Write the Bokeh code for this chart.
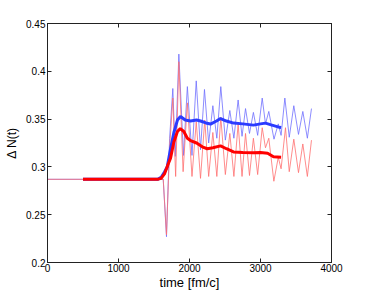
from bokeh.plotting import figure
from bokeh.models import Range1d, LinearAxis, FixedTicker
from bokeh.embed import file_html
from bokeh.resources import INLINE

# thin (raw) series
t_blue_thin = [0, 1560, 1630, 1676, 1720, 1765, 1800, 1850, 1915, 1970, 2035, 2095, 2155, 2211,
               2270, 2329, 2385, 2441, 2505, 2568, 2625, 2685, 2740, 2789, 2845, 2900, 2960,
               3024, 3070, 3117, 3190, 3250, 3290, 3343, 3405, 3469, 3535, 3596, 3660, 3718]
v_blue_thin = [0.287, 0.287, 0.287, 0.227, 0.330, 0.382, 0.311, 0.418, 0.312, 0.384, 0.312, 0.390,
               0.318, 0.381, 0.325, 0.364, 0.330, 0.384, 0.328, 0.359, 0.330, 0.370, 0.332, 0.361,
               0.335, 0.357, 0.333, 0.372, 0.345, 0.358, 0.329, 0.345, 0.333, 0.372, 0.331, 0.364,
               0.334, 0.358, 0.330, 0.361]

t_red_thin = [0, 1560, 1630, 1676, 1720, 1765, 1805, 1850, 1910, 1970, 2035, 2095, 2155, 2215,
              2270, 2329, 2385, 2441, 2505, 2568, 2625, 2685, 2740, 2789, 2845, 2900, 2960,
              3024, 3070, 3117, 3188, 3250, 3290, 3352, 3405, 3469, 3535, 3596, 3660, 3718]
v_red_thin = [0.287, 0.287, 0.287, 0.229, 0.320, 0.372, 0.290, 0.410, 0.295, 0.367, 0.290, 0.347,
              0.288, 0.349, 0.290, 0.336, 0.290, 0.352, 0.292, 0.335, 0.290, 0.345, 0.290, 0.335,
              0.291, 0.330, 0.292, 0.341, 0.320, 0.330, 0.285, 0.310, 0.298, 0.341, 0.295, 0.329,
              0.294, 0.324, 0.290, 0.328]

# thick (averaged) series
t_blue_avg = [500, 1550, 1600, 1650, 1686, 1733, 1780, 1830, 1873, 1940, 2014, 2100, 2155, 2230,
              2296, 2380, 2437, 2520, 2620, 2750, 2900, 3000, 3070, 3150, 3270, 3290]
v_blue_avg = [0.287, 0.287, 0.289, 0.295, 0.300, 0.319, 0.336, 0.349, 0.3527, 0.349, 0.348, 0.349,
              0.348, 0.346, 0.3448, 0.348, 0.3506, 0.348, 0.3458, 0.345, 0.3437, 0.345, 0.3458,
              0.344, 0.3414, 0.341]

t_red_avg = [500, 1550, 1600, 1650, 1700, 1733, 1780, 1830, 1870, 1920, 1970, 2014, 2100, 2180,
             2250, 2330, 2437, 2520, 2620, 2750, 2900, 3000, 3100, 3183, 3290]
v_red_avg = [0.287, 0.287, 0.288, 0.293, 0.303, 0.309, 0.326, 0.337, 0.340, 0.337, 0.330, 0.3276,
             0.325, 0.321, 0.319, 0.320, 0.322, 0.319, 0.3157, 0.315, 0.3147, 0.315, 0.3143,
             0.3106, 0.310]

x_ticks = [0, 1000, 2000, 3000, 4000]
y_ticks = [0.2, 0.25, 0.3, 0.35, 0.4, 0.45]
y_tick_labels = ["0.2", "0.25", "0.3", "0.35", "0.4", "0.45"]
x_label = "time [fm/c]"
y_label = "\u0394 N(t)"

FONT = "Liberation Sans"

p = figure(width=357, height=292, output_backend="svg", toolbar_location=None,
           x_range=Range1d(0, 4000), y_range=Range1d(0.2, 0.45),
           min_border_left=47, min_border_right=26, min_border_top=23, min_border_bottom=26,
           x_axis_label=x_label, y_axis_label=y_label)
p.grid.visible = False
p.outline_line_color = "#222222"
p.background_fill_color = "white"
p.border_fill_color = "white"

p.line(t_blue_thin, v_blue_thin, line_color="#6f6fff", line_width=1, line_alpha=0.8)
p.line(t_red_thin, v_red_thin, line_color="#ff6f6f", line_width=1, line_alpha=0.8)
p.line(t_blue_avg, v_blue_avg, line_color="#2b3bff", line_width=3)
p.line(t_red_avg, v_red_avg, line_color="#ff0000", line_width=3)

for ax in (p.xaxis[0], p.yaxis[0]):
    ax.major_tick_in = 4
    ax.major_tick_out = 0
    ax.minor_tick_line_color = None
    ax.axis_line_color = "#222222"
    ax.major_tick_line_color = "#222222"
    ax.major_label_text_font = FONT
    ax.major_label_text_font_size = "10px"
    ax.major_label_text_color = "black"
    ax.axis_label_text_font = FONT
    ax.axis_label_text_font_size = "12px"
    ax.axis_label_text_font_style = "normal"
    ax.axis_label_text_color = "black"
    ax.major_label_standoff = 2
    ax.axis_label_standoff = 4

p.xaxis[0].ticker = FixedTicker(ticks=x_ticks)
p.xaxis[0].major_label_standoff = 1
p.xaxis[0].axis_label_standoff = 0
p.xaxis[0].axis_label_text_font_size = "13px"
p.yaxis[0].ticker = FixedTicker(ticks=y_ticks)
p.yaxis[0].major_label_overrides = {t: l for t, l in zip(y_ticks, y_tick_labels)}

for loc, ticks in (("above", x_ticks), ("right", y_ticks)):
    a = LinearAxis(ticker=FixedTicker(ticks=ticks))
    a.major_tick_in = 4
    a.major_tick_out = 0
    a.minor_tick_line_color = None
    a.axis_line_color = "#222222"
    a.major_tick_line_color = "#222222"
    a.major_label_text_color = None
    a.major_label_text_font_size = "8px"
    a.major_label_standoff = 0
    p.add_layout(a, loc)

open("out.html", "w").write(file_html(p, INLINE))
